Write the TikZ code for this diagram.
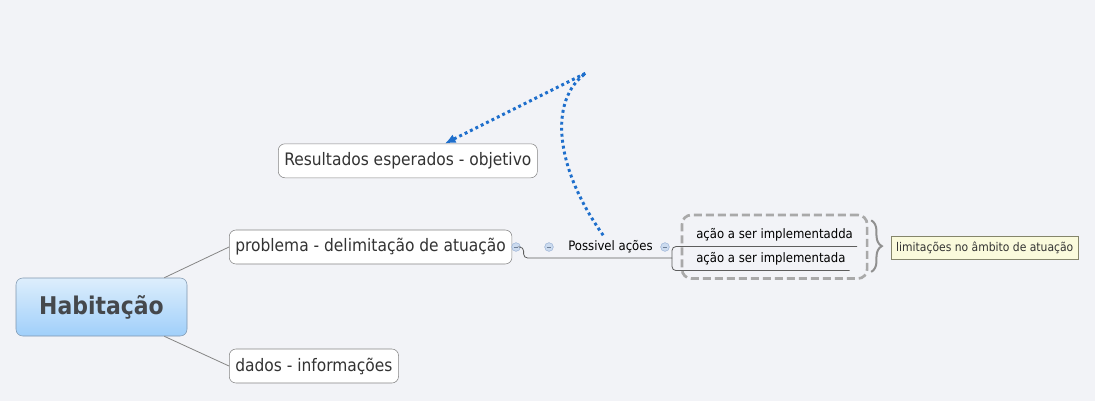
\documentclass[tikz,border=0pt]{standalone}
\usepackage{fontspec}
\setmainfont{DejaVu Sans Condensed}
\usepackage{xcolor}
\usepackage{tikz}
\usetikzlibrary{positioning,arrows.meta,fit,decorations.pathreplacing}
\definecolor{mapBack}{HTML}{F2F3F7}
\definecolor{topicLine}{HTML}{858585}
\definecolor{topicText}{HTML}{333333}
\definecolor{centralText}{HTML}{45484C}
\definecolor{relBlue}{HTML}{1F6FCC}
\definecolor{knobFill}{HTML}{CCDBEF}
\definecolor{knobLine}{HTML}{9DB5D8}
\definecolor{centralTop}{HTML}{DDEEFC}
\definecolor{centralBottom}{HTML}{A0CFFA}
\definecolor{centralLine}{HTML}{7F96AE}
\definecolor{noteFill}{HTML}{FAFADC}
\definecolor{noteLine}{HTML}{85856B}
\definecolor{boundaryGray}{HTML}{A9A9A9}
\tikzset{
  centralTopic/.style={
    rectangle,
    rounded corners=5pt,
    draw=centralLine,
    top color=centralTop,
    bottom color=centralBottom,
    minimum width=128.25pt,
    minimum height=43.5pt,
    text=centralText,
    font=\fontsize{18.3}{22}\selectfont\bfseries
  },
  mainTopic/.style={
    rectangle,
    rounded corners=5pt,
    draw=topicLine,
    fill=white,
    minimum height=25.5pt,
    inner xsep=4.5pt,
    text=topicText,
    font=\fontsize{12.9}{15}\selectfont
  },
  subTopic/.style={
    inner xsep=3pt,
    inner ysep=0pt,
    minimum height=17.25pt,
    text=black,
    font=\fontsize{9.75}{12}\selectfont
  },
  knob/.style={
    circle,
    draw=knobLine,
    fill=knobFill,
    minimum size=6.5pt,
    inner sep=0pt,
    path picture={\draw[knobLine!70!black, line width=0.6pt]
      ([xshift=-1.8pt]path picture bounding box.center) --
      ([xshift=1.8pt]path picture bounding box.center);}
  },
  trunkLine/.style={
    draw=topicLine,
    line width=0.6pt
  },
  branchLine/.style={
    draw=topicLine!70!black,
    line width=0.6pt,
    rounded corners=3pt
  },
  relationLine/.style={
    draw=relBlue,
    line width=2.2pt,
    dash pattern=on 2.2pt off 2.3pt,
    -{Latex[length=8pt,width=7pt]}
  },
  boundaryBox/.style={
    rectangle,
    rounded corners=7pt,
    draw=boundaryGray,
    line width=2pt,
    dash pattern=on 6pt off 3pt,
    inner xsep=7.5pt,
    inner ysep=6pt
  },
  summaryBrace/.style={
    draw=boundaryGray!85!black,
    line width=1.5pt,
    decorate,
    decoration={brace, amplitude=8pt}
  },
  noteBox/.style={
    rectangle,
    draw=noteLine,
    fill=noteFill,
    minimum width=140.25pt,
    minimum height=17.25pt,
    text=topicText,
    font=\fontsize{9}{11}\selectfont
  }
}

\begin{document}
\begin{tikzpicture}[x=0.75pt, y=-0.75pt]
        \fill[mapBack] (0,0) rectangle (1095,401);
        \useasboundingbox (0,0) rectangle (1095,401);

        \node[centralTopic] (habitacao) at (101.5,307) {Habitação};
        \node[mainTopic, anchor=west] (problema) at (229,247) {problema - delimitação de atuação};
        \node[mainTopic, anchor=west] (dados) at (229,366) {dados - informações};
        \node[mainTopic, anchor=west] (resultados) at (278,160.8) {Resultados esperados - objetivo};

        \draw[trunkLine] (habitacao.25) -- (problema.west);
        \draw[trunkLine] (habitacao.-25) -- (dados.west);

        \node[knob] (knobA) at (516,247) {};
        \node[knob] (knobB) at (549,247) {};
        \node[subTopic] (possivel) at (610.5,247) {Possivel ações};
        \node[knob] (knobC) at (665,247) {};
        \coordinate (fork) at (672,258);

        \node[subTopic, anchor=south west] (acaoA) at (692,246.5) {ação a ser implementadda};
        \node[subTopic, below=0.4pt of acaoA.south west, anchor=north west] (acaoB) {ação a ser implementada};

        \draw[branchLine] (knobA.east) -- ++(3,0) |- (fork);
        \draw[branchLine] (fork) |- (acaoA.south west) -- (acaoA.south east);
        \draw[branchLine] (fork) |- (acaoB.south west) -- (acaoB.south east);

        \node[boundaryBox, fit=(acaoA)(acaoB)] (grupo) {};
        \draw[summaryBrace] ([xshift=2pt,yshift=-5pt]grupo.north east) -- ([xshift=2pt,yshift=6pt]grupo.south east);
        \node[noteBox, anchor=west] (limite) at (891,247.5) {limitações no âmbito de atuação};

        \coordinate (relKnee) at (586,73);
        \draw[relationLine] ([xshift=-5.5pt]possivel.north) .. controls (555,168) and (548,100) .. (relKnee)
            .. controls (560,86) and (500,116) .. (resultados.25);

    \end{tikzpicture}
\end{document}
